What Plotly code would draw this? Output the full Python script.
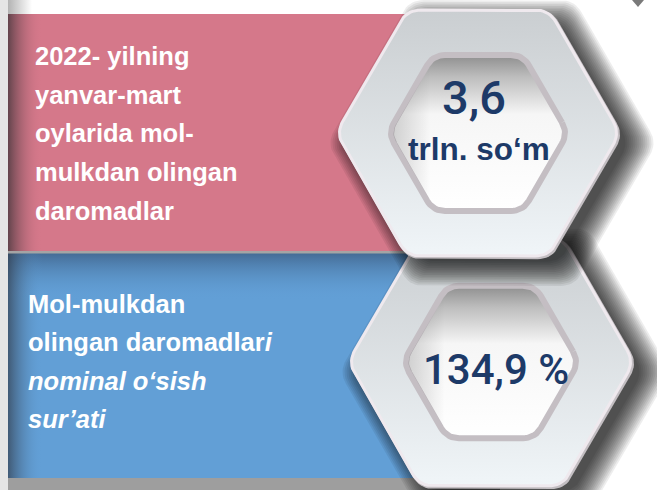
import numpy as np
import plotly.graph_objects as go

# ---------------- data ----------------
labels_top = ["2022- yilning", "yanvar-mart", "oylarida mol-", "mulkdan olingan", "daromadlar"]
labels_bottom = ["Mol-mulkdan", "olingan daromadlar<i>i</i>", "<i>nominal o‘sish</i>", "<i>sur’ati</i>"]
values = ["3,6", "134,9 %"]
units = ["trln. so‘m", ""]
panel_colors = ["#d5788a", "#629fd6"]
navy = "#1d3a68"

W, H = 657, 490
fig = go.Figure()


def rect(x0, x1, y0, y1):
    return [x0, x1, x1, x0, x0], [y0, y0, y1, y1, y0]


def hex_pts(cx, cy, r, rc, n=10):
    verts = [np.array([cx + r * np.cos(np.radians(a)), cy + r * np.sin(np.radians(a))])
             for a in range(0, 360, 60)]
    xs, ys = [], []
    t = rc / r
    for i in range(6):
        P, V, N = verts[i - 1], verts[i], verts[(i + 1) % 6]
        A = V + (P - V) * t
        B = V + (N - V) * t
        for s in np.linspace(0, 1, n):
            p = (1 - s) ** 2 * A + 2 * (1 - s) * s * V + s ** 2 * B
            xs.append(float(p[0]))
            ys.append(float(p[1]))
    xs.append(xs[0])
    ys.append(ys[0])
    return xs, ys


def poly(pts, fill=None, grad=None, line_color=None, line_width=0):
    xs, ys = pts
    kw = dict(x=xs, y=ys, mode="lines", fill="toself", hoverinfo="skip", showlegend=False,
              line=dict(color=line_color or "rgba(0,0,0,0)", width=line_width))
    if grad is not None:
        kw["fillgradient"] = grad
    else:
        kw["fillcolor"] = fill
    fig.add_trace(go.Scatter(**kw))


# ---------------- background panels ----------------
# (vertical gradients: colorscale 0 = bottom of screen because the y axis is reversed)
poly(rect(0, 8, 0, H), fill="#e5e5e5")
poly(rect(8, 32, 0, 14), grad=dict(type="horizontal", colorscale=[[0, "#b3b3b3"], [1, "#ffffff"]]))
poly(rect(8, 485, 14, 252), fill=panel_colors[0])
poly(rect(8, 42, 14, 252), grad=dict(type="horizontal",
                                     colorscale=[[0, "rgba(60,50,55,0.75)"], [1, "rgba(213,120,138,0)"]]))
poly(rect(8, 495, 252, 478), fill=panel_colors[1])
poly(rect(8, 495, 252, 300), grad=dict(type="vertical",
                                       colorscale=[[0, "rgba(98,159,214,0)"], [1, "rgba(40,60,90,0.55)"]]))
poly(rect(8, 42, 252, 478), grad=dict(type="horizontal",
                                      colorscale=[[0, "rgba(50,60,75,0.7)"], [1, "rgba(98,159,214,0)"]]))
poly(rect(8, 485, 251, 253.5), fill="#a4a4a4")
poly(rect(8, 500, 478, H), fill="#9e9e9e")
poly(([632, 644, 638, 632], [0, 0, 7, 0]), fill="#7a7a7a")


# ---------------- hexagons ----------------
def hexagon(cx, cy, R, r_in):
    # drop shadow (offset to the lower right)
    for k in range(14, -1, -1):
        poly(hex_pts(cx + 14, cy + 10, R - 8 + 2 * k, 14), fill="rgba(0,0,0,0.07)")
    # darker rim on the lower right
    poly(hex_pts(cx + 1.5, cy + 1.5, R - 1, 14), fill="#c3bec2")
    # outer body
    poly(hex_pts(cx, cy, R - 3, 14),
         grad=dict(type="vertical", colorscale=[[0, "#f0f5f8"], [1, "#caced1"]]),
         line_color="#efe9ee", line_width=3)
    # inner window
    poly(hex_pts(cx, cy, r_in - 3, 12),
         grad=dict(type="vertical", colorscale=[[0, "#ffffff"], [0.62, "#f6f6f6"],
                                                [0.86, "#bdbdbd"], [1, "#8e8e8e"]]),
         line_color="#c4bec3", line_width=6)
    poly(hex_pts(cx, cy, r_in - 6, 10),
         grad=dict(type="horizontal", colorscale=[[0, "rgba(0,0,0,0.16)"], [0.22, "rgba(0,0,0,0)"],
                                                  [1, "rgba(0,0,0,0)"]]))


hexagon(491, 362, 146, 91)
hexagon(478, 133, 145, 93)

# ---------------- text ----------------
ann = []
top_y = [56, 95, 133, 172, 211]
for lab, y in zip(labels_top, top_y):
    ann.append(dict(x=33, y=y, text=lab, xanchor="left", yanchor="middle", showarrow=False,
                    font=dict(family="Liberation Sans, Arial, sans-serif", size=25.5, color="white",
                              weight="bold")))
bot_y = [304, 342, 381, 419]
for lab, y in zip(labels_bottom, bot_y):
    ann.append(dict(x=26, y=y, text=lab, xanchor="left", yanchor="middle", showarrow=False,
                    font=dict(family="Liberation Sans, Arial, sans-serif", size=25.5, color="white",
                              weight="bold")))

num_font = "Roboto, DejaVu Sans Condensed, sans-serif"
ann.append(dict(x=474, y=97, text=values[0], showarrow=False, xanchor="center", yanchor="middle",
                font=dict(family=num_font, size=47, color=navy, weight=500)))
ann.append(dict(x=479, y=149, text=units[0], showarrow=False, xanchor="center", yanchor="middle",
                font=dict(family="Liberation Sans, Arial, sans-serif", size=31.5, color=navy, weight="bold")))
ann.append(dict(x=496, y=369, text=values[1], showarrow=False, xanchor="center", yanchor="middle",
                font=dict(family=num_font, size=42, color=navy, weight=500)))

fig.update_layout(
    width=W, height=H, margin=dict(l=0, r=0, t=0, b=0),
    paper_bgcolor="white", plot_bgcolor="white",
    xaxis=dict(range=[0, W], visible=False, fixedrange=True),
    yaxis=dict(range=[H, 0], visible=False, fixedrange=True),
    annotations=ann, showlegend=False,
)
fig.write_html("out.html", config={"displayModeBar": False},
               post_script="document.body.style.margin='0';document.body.style.overflow='hidden';")
